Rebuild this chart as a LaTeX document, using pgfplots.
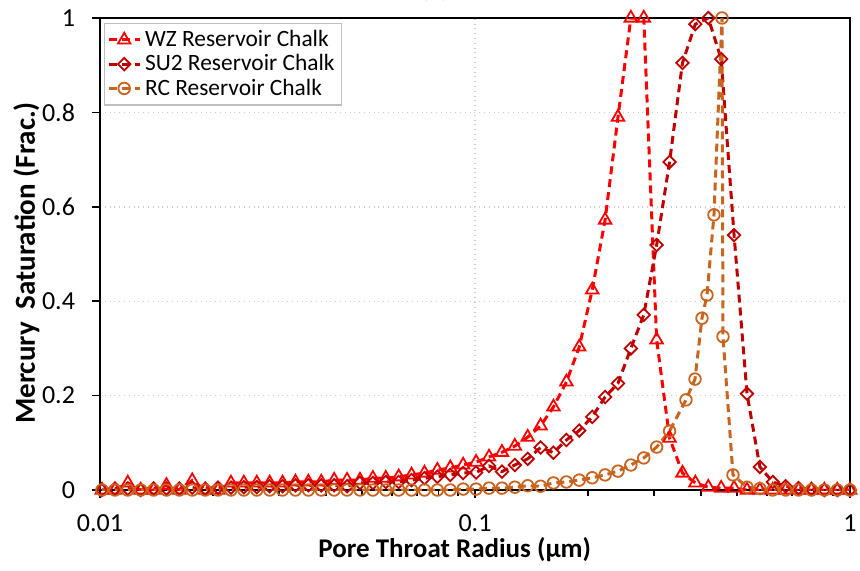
\documentclass[border=0pt]{standalone}
\usepackage{fontspec}
\setmainfont{Carlito}
\usepackage{pgfplots}
\usepackage{pgfplotstable}
\pgfplotsset{compat=1.18}
\definecolor{wzc}{RGB}{255,0,0}
\definecolor{suc}{RGB}{192,0,0}
\definecolor{rcc}{RGB}{200,100,30}

\pgfplotstableread{
x y
0.01012 0.000
0.01096 0.000
0.01186 0.015
0.01284 0.000
0.01390 0.000
0.01504 0.010
0.01628 0.000
0.01762 0.020
0.01908 0.000
0.02065 0.000
0.02235 0.015
0.02419 0.015
0.02619 0.015
0.02835 0.015
0.03068 0.015
0.03321 0.017
0.03595 0.017
0.03891 0.017
0.04212 0.021
0.04559 0.021
0.04935 0.021
0.05342 0.025
0.05782 0.025
0.06259 0.028
0.06775 0.032
0.07334 0.036
0.07938 0.042
0.08592 0.047
0.09300 0.053
0.10067 0.059
0.1090 0.070
0.1180 0.080
0.1277 0.093
0.1382 0.112
0.1496 0.136
0.1619 0.176
0.1753 0.229
0.1897 0.303
0.2054 0.424
0.2223 0.572
0.2406 0.790
0.2604 1.000
0.2819 1.000
0.3051 0.318
0.3303 0.110
0.3575 0.036
0.3870 0.015
0.4189 0.006
0.4534 0.004
0.4908 0.004
0.5313 0.000
0.5750 0.000
0.6224 0.000
0.6738 0.000
0.7293 0.000
0.7894 0.000
0.8545 0.000
0.9249 0.000
1.0 0.000
}\wz

\pgfplotstableread{
x y
0.01012 0.000
0.01096 0.003
0.01186 0.003
0.01284 0.000
0.01390 0.003
0.01504 0.003
0.01628 0.003
0.01762 0.005
0.01908 0.003
0.02065 0.005
0.02235 0.005
0.02419 0.006
0.02619 0.006
0.02835 0.008
0.03068 0.008
0.03321 0.010
0.03595 0.010
0.03891 0.010
0.04212 0.010
0.04559 0.008
0.04935 0.015
0.05342 0.015
0.05782 0.017
0.06259 0.017
0.06775 0.021
0.07334 0.025
0.07938 0.028
0.08592 0.032
0.09300 0.036
0.10067 0.037
0.1090 0.051
0.1180 0.039
0.1277 0.053
0.1382 0.066
0.1496 0.090
0.1619 0.079
0.1753 0.106
0.1897 0.126
0.2054 0.155
0.2223 0.197
0.2406 0.226
0.2604 0.300
0.2819 0.371
0.3051 0.519
0.3303 0.695
0.3575 0.905
0.3870 0.987
0.4189 1.000
0.4534 0.913
0.4908 0.540
0.5313 0.204
0.5750 0.049
0.6224 0.017
0.6738 0.008
0.7293 0.004
0.7894 0.002
0.8545 0.000
0.9249 0.000
1.0 0.000
}\su

\pgfplotstableread{
x y
0.01012 0.000
0.01096 0.000
0.01186 0.000
0.01284 0.000
0.01390 0.000
0.01504 0.000
0.01628 0.000
0.01762 0.000
0.01908 0.000
0.02065 0.000
0.02235 0.000
0.02419 0.000
0.02619 0.000
0.02835 0.000
0.03068 0.000
0.03321 0.000
0.03595 0.000
0.03891 0.000
0.04212 0.000
0.04559 0.000
0.04935 0.000
0.05342 0.000
0.05782 0.000
0.06259 0.000
0.06775 0.000
0.07334 0.000
0.07938 0.000
0.08592 0.000
0.09300 0.002
0.10067 0.002
0.1090 0.004
0.1180 0.004
0.1277 0.006
0.1382 0.009
0.1496 0.008
0.1619 0.015
0.1753 0.017
0.1897 0.021
0.2054 0.026
0.2223 0.032
0.2406 0.040
0.2604 0.053
0.2819 0.068
0.3051 0.091
0.3303 0.125
0.3653 0.191
0.3861 0.235
0.4030 0.364
0.4156 0.413
0.4338 0.583
0.4557 1.000
0.4585 0.325
0.4875 0.032
0.5313 0.006
0.5750 0.003
0.6224 0.000
0.6738 0.000
0.7293 0.000
0.7894 0.000
0.8545 0.000
0.9249 0.000
1.0 0.000
}\rc

\begin{document}
\begin{tikzpicture}
\begin{axis}[
  scale only axis, width=375pt, height=236pt,
  xmode=log, xmin=0.01, xmax=1, ymin=0, ymax=1,
  xtick={0.01,0.1,1}, xticklabels={0.01,0.1,1},
  minor xtick={0.02,0.03,0.04,0.05,0.06,0.07,0.08,0.09,0.2,0.3,0.4,0.5,0.6,0.7,0.8,0.9},
  ytick={0,0.2,0.4,0.6,0.8,1}, yticklabels={0,0.2,0.4,0.6,0.8,1},
  tick align=outside, tick pos=left,
  major tick length=4pt, minor tick length=3pt,
  tick style={black, line width=0.8pt},
  axis line style={black, line width=0.8pt},
  xmajorgrids, ymajorgrids,
  major grid style={gray!40, dotted, line width=0.7pt},
  /pgf/number format/assume math mode=true,
  ticklabel style={font=\fontsize{13}{15}\selectfont},
  xticklabel style={yshift=-5pt},
  yticklabel style={xshift=-5pt},
  xlabel={Pore Throat Radius (µm)},
  ylabel={Mercury\ \ Saturation (Frac.)},
  xlabel style={font=\fontsize{13.5}{16}\selectfont\bfseries,
    at={(axis description cs:0.473,0)}, anchor=base, yshift=-33.5pt},
  ylabel style={font=\fontsize{14.5}{16}\selectfont\bfseries,
    at={(axis description cs:-0.0867,0.481)}, anchor=base},
  legend style={at={(0.005,0.99)}, anchor=north west, draw=gray!50, line width=0.6pt,
    font=\fontsize{11.7}{13}\selectfont, inner sep=1.5pt, row sep=-1.5pt},
  legend cell align=left,
  legend image code/.code={\draw[mark repeat=2,mark phase=2,#1] plot coordinates {(0cm,0cm) (0.27cm,0cm) (0.54cm,0cm)};},
  every axis plot/.append style={line width=1.5pt, dash pattern=on 4pt off 2.5pt},
]
\addplot[color=wzc, mark=triangle, mark size=3.6pt, mark options={solid, line width=0.9pt}] table {\wz};
\addlegendentry{WZ Reservoir Chalk}
\addplot[color=suc, mark=square, mark size=2.2pt, mark options={solid, rotate=45, line width=0.9pt}] table {\su};
\addlegendentry{SU2 Reservoir Chalk}
\addplot[color=rcc, mark=o, mark size=2.9pt, mark options={solid, line width=0.9pt}] table {\rc};
\addlegendentry{RC Reservoir Chalk}
\end{axis}
\node[anchor=base, font=\fontsize{12}{14}\selectfont] at (167.5pt,246.5pt) {(a)};
\pgfresetboundingbox
\path[use as bounding box] (-50pt,-40pt) rectangle (380pt,245pt);
\end{tikzpicture}
\end{document}
